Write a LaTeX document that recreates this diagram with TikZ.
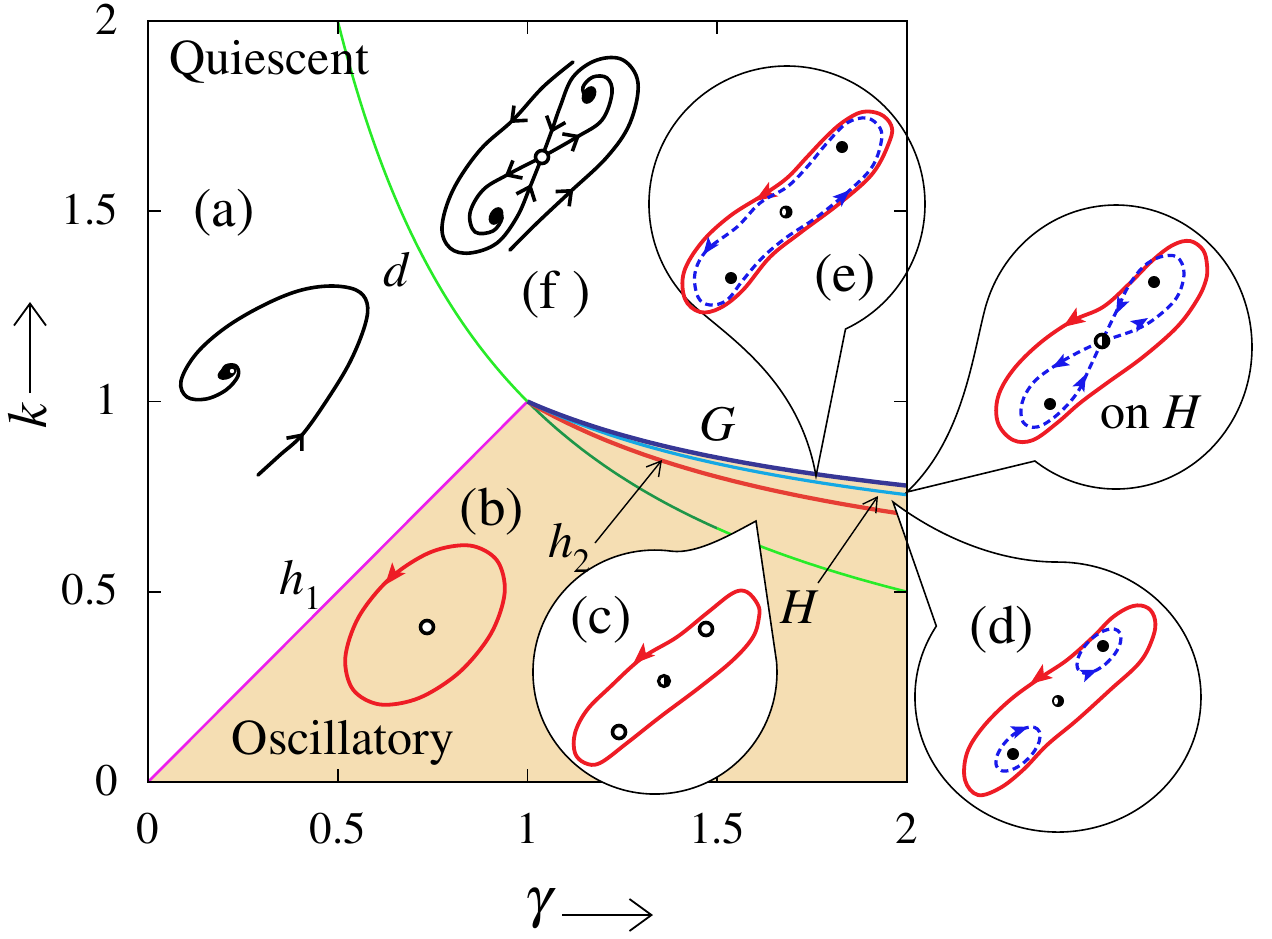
\documentclass[tikz,border=0pt]{standalone}
\usepackage[T1]{fontenc}
\usepackage{mathptmx}
\usetikzlibrary{arrows.meta,decorations.markings}
\definecolor{wheatc}{RGB}{245,222,179}
\definecolor{gcol}{RGB}{55,55,150}
\definecolor{hcol}{RGB}{20,168,228}
\definecolor{htwocol}{RGB}{230,62,52}
\definecolor{dgr}{RGB}{40,235,40}
\definecolor{dgrdark}{RGB}{30,150,72}
\definecolor{magc}{RGB}{236,30,236}
\definecolor{redc}{RGB}{238,28,37}
\definecolor{bluec}{RGB}{25,25,235}
\newcommand{\myfsTick}{\fontsize{22.5}{27}\selectfont}
\newcommand{\myfsWord}{\fontsize{25}{30}\selectfont}
\newcommand{\myfsLab}{\fontsize{27.5}{32}\selectfont}
\newcommand{\myfsAx}{\fontsize{28}{33}\selectfont}
\tikzset{
  blk/.style={line width=1.8pt, line cap=round, line join=round},
  redloop/.style={draw=redc, line width=1.9pt, line join=round},
  redtip/.style={draw=redc, line width=0.8pt, -{Stealth[length=11pt,width=8.5pt,inset=2.5pt]}},
  bluedash/.style={draw=bluec, line width=1.6pt, dash pattern=on 3.8pt off 2.3pt},
  bluetip/.style={draw=bluec, line width=0.8pt, -{Stealth[length=8.5pt,width=6.5pt,inset=1.8pt]}},
  bubble/.style={draw=black, line width=0.8pt, fill=white},
  openpt/.style={draw=black, fill=white, line width=1.8pt},
  annot/.style={line width=0.7pt, -{Straight Barb[length=7pt,width=8pt]}},
  axarrow/.style={line width=1.25pt, -{Straight Barb[length=11pt,width=16pt,line width=0.9pt]}},
  tickmark/.style={line width=0.9pt},
  lab/.style={inner sep=0pt, outer sep=0pt},
  barbat/.style={postaction={decorate,decoration={markings,mark=at position #1 with {\arrow{Straight Barb[length=6pt,width=10pt]}}}}},
  bluearrow/.style={postaction={decorate,decoration={markings,mark=at position #1 with {\arrow{Stealth[length=8.5pt,width=6.5pt,inset=1.8pt]}}}}},
}
\begin{document}
\begin{tikzpicture}[x=0.5pt,y=-0.5pt]
\useasboundingbox (0,0) rectangle (1272,938);
% ---------- data region ----------
\begin{scope}[shift={(148,782)}, x=189.75pt, y=190.25pt]
  \fill[wheatc] (0,0) -- (1,1) -- plot[domain=1:2,samples=60] (\x,{0.558+0.442/\x}) -- (2,0) -- cycle;
  \draw[magc, line width=1.3pt] (0,0) -- (1,1);
  \draw[dgr, line width=1.3pt] plot[domain=0.5:1,samples=60] (\x,{1/\x});
  \draw[dgrdark, line width=1.3pt] plot[domain=1:1.5,samples=40] (\x,{1/\x});
  \draw[dgr, line width=1.3pt] plot[domain=1.5:2,samples=40] (\x,{1/\x});
  \draw[htwocol, line width=2.1pt] plot[domain=1:2,samples=60] (\x,{0.406+0.594/\x});
  \draw[hcol, line width=1.6pt] plot[domain=1:2,samples=60] (\x,{0.51+0.49/\x});
  \draw[gcol, line width=2.2pt] plot[domain=1:2,samples=60] (\x,{0.558+0.442/\x});
\end{scope}
% ---------- (a) ----------
\draw[blk, barbat=31pt] plot[smooth, tension=0.6] coordinates {(258,475) (280,455) (302,435) (327,400) (350,362) (365,325) (367,303) (356,290) (330,286) (298,291) (262,306) (225,328) (196,354) (181,381) (187,397) (206,399) (226,390) (238,376) (236,366) (226,366) (221,374)};
\fill[rotate around={25:(227,373)}] (227,373) ellipse[x radius=10, y radius=6];
\fill[white] (232,371) circle[radius=2.2];
% ---------- (f) ----------
\draw[blk, barbat=44pt, barbat=179pt] plot[smooth, tension=0.6] coordinates {(573,62) (543,87) (513,120) (480,150) (453,190) (442,227) (450,248) (470,253) (497,243) (517,217) (530,187) (542,157)};
\draw[blk, barbat=44pt, barbat=181pt] plot[smooth, tension=0.6] coordinates {(510,250) (537,223) (570,192) (607,157) (630,123) (638,83) (623,60) (597,60) (573,77) (560,107) (552,130) (542,157)};
\draw[blk, barbat=21pt] plot[smooth, tension=0.6] coordinates {(542,157) (507,175) (483,190) (470,213) (475,232) (493,231) (502,218) (497,211) (492,216)};
\draw[blk, barbat=22pt] plot[smooth, tension=0.6] coordinates {(542,157) (577,137) (602,120) (612,93) (607,78) (593,77) (583,87) (586,97) (592,96)};
\fill[rotate around={-30:(589,95)}] (589,95) ellipse[x radius=6.5, y radius=9.5];
\fill[rotate around={-30:(496,216)}] (496,216) ellipse[x radius=6.5, y radius=9.5];
\draw[openpt] (542,157) circle[radius=6.5];
% ---------- (b) ----------
\draw[redloop] plot[smooth cycle, tension=0.55] coordinates {(390.1,578.2) (358.8,616.8) (345.3,657.7) (353.1,689.7) (380.2,704.5) (419.3,697.9) (459.9,671.8) (491.2,633.2) (504.7,592.3) (496.9,560.3) (469.8,545.5) (430.7,552.1)};
\draw[redtip] (388.8,580.3) -- (385,585);
\draw[openpt] (427,627) circle[radius=6.5];
% ---------- annotation arrows ----------
\coordinate (h2tail) at (595,543);
\coordinate (h2tip) at (662,460);
\draw[annot] (h2tail) -- (h2tip);
\coordinate (Htail) at (818,583);
\coordinate (Htip) at (878,496);
\draw[annot] (Htail) -- (Htip);
% ---------- bubbles behind the frame ----------
\draw[bubble] (816,476) -- (845.5,329) arc[start angle=64.9, end angle=-230, radius=138] .. controls (736,342) and (800,385) .. (816,476) -- cycle;
\draw[bubble] (907,492) -- (1034.9,461) arc[start angle=126.6, end angle=-165, x radius=136, y radius=142] .. controls (972,360) and (962,440) .. (907,492) -- cycle;
\draw[bubble] (893,502) -- (936.3,626.1) arc[start angle=211.7, end angle=-90, x radius=143, y radius=135] .. controls (990,562) and (930,530) .. (893,502) -- cycle;
% ---------- frame and ticks ----------
\draw[line width=1pt] (148,21) rectangle (907,782);
\foreach \i in {1,2,3} {
  \draw[tickmark] ({148+189.75*\i},782) -- ++(0,-13);
  \draw[tickmark] ({148+189.75*\i},21) -- ++(0,13);
  \draw[tickmark] (148,{782-190.25*\i}) -- ++(13,0);
  \draw[tickmark] (907,{782-190.25*\i}) -- ++(-13,0);
}
% ---------- bubble (c) on top ----------
\draw[bubble] (756,521) -- (776.5,661.4) arc[start angle=-5, end angle=278, radius=122] .. controls (697,554) and (730,535) .. (756,521) -- cycle;
% ---------- contents (c) ----------
\draw[redloop] plot[smooth cycle, tension=0.6] coordinates {(642,658) (610,687) (587,710) (575,733) (575,753) (585,763) (600,763) (627,743) (660,717) (700,687) (733,660) (753,637) (759,617) (758,605) (747,592) (733,593) (707,613) (677,637)};
\draw[redtip] (637.4,660) -- (633,664);
\draw[openpt] (706,629) circle[radius=6.5];
\draw[openpt] (619,732) circle[radius=6.5];
\draw[line width=1.6pt, fill=white] (664,681) circle[radius=5.5];
\fill (664,675.5) arc[start angle=-90, end angle=90, radius=5.5] -- cycle;
% ---------- contents (e) ----------
\draw[redloop] plot[smooth cycle, tension=0.6] coordinates {(763,195) (730,216) (702,242) (684,272) (685,299) (700,312) (720,308) (743,290) (770,257) (800,233) (840,203) (873,173) (890,140) (891,125) (880,114) (862,112) (843,122) (826,137) (807,157) (787,178)};
\draw[redtip] (760,197.8) -- (755,201);
\draw[bluedash, bluearrow=3pt, bluearrow=125pt] plot[smooth cycle, tension=0.6] coordinates {(737,227) (707,250) (695,273) (698,297) (710,305) (727,300) (743,280) (763,257) (787,237) (817,217) (850,190) (872,167) (881,143) (880,128) (867,118) (847,123) (827,143) (807,167) (787,187) (760,203)};
\fill (842,147) circle[radius=6];
\fill (731,278) circle[radius=6];
\fill (786,212) circle[radius=6.5];
\fill[white] (784,212) ellipse[x radius=2, y radius=3.5];
% ---------- contents (on H) ----------
\draw[redloop] plot[smooth cycle, tension=0.6] coordinates {(1072,321) (1040,343) (1013,370) (998,397) (998,423) (1013,440) (1033,440) (1057,423) (1080,403) (1107,383) (1143,357) (1177,327) (1197,300) (1206,280) (1207,265) (1203,250) (1190,241) (1173,245) (1153,260) (1130,283) (1103,307)};
\draw[redtip] (1068,323.6) -- (1063,327);
\draw[bluedash] plot[smooth, tension=0.6] coordinates {(1102,341) (1135,330) (1157,317) (1177,297) (1184,273) (1177,257) (1160,257) (1143,267) (1128,287) (1117,310) (1102,341)};
\draw[bluedash] plot[smooth, tension=0.6] coordinates {(1102,341) (1077,353) (1053,367) (1033,383) (1022,403) (1023,422) (1037,427) (1057,415) (1077,393) (1090,367) (1102,341)};
\draw[bluetip] (1142.8,321.1) -- (1148,318);
\draw[bluetip] (1118.6,308.6) -- (1116,314);
\draw[bluetip] (1057.2,365) -- (1052,368);
\draw[bluetip] (1083.3,379.4) -- (1086,374);
\fill (1154,282) circle[radius=6];
\fill (1050,404) circle[radius=6];
\draw[line width=1.8pt, fill=white] (1102,341) circle[radius=6.5];
\fill (1102,334.5) arc[start angle=-90, end angle=90, radius=6.5] -- cycle;
% ---------- contents (d) ----------
\draw[redloop] plot[smooth cycle, tension=0.6] coordinates {(1040,678) (1010,700) (983,727) (967,753) (965,780) (978,795) (1000,788) (1023,770) (1047,745) (1077,720) (1110,690) (1140,662) (1153,637) (1155,620) (1148,608) (1133,606) (1113,617) (1093,637) (1067,660)};
\draw[redtip] (1034.8,680.5) -- (1030,684);
\draw[bluedash] plot[smooth cycle, tension=0.55] coordinates {(1093.9,671.3) (1105.3,664.2) (1115.1,653.5) (1120.5,642.2) (1120.2,633.2) (1114.2,629.0) (1104.1,630.7) (1092.7,637.8) (1082.9,648.5) (1077.5,659.8) (1077.8,668.8) (1083.8,673.0)};
\draw[bluedash] plot[smooth cycle, tension=0.55] coordinates {(1024.5,728.2) (1034.2,727.2) (1039.6,732.1) (1039.2,741.5) (1033.1,752.9) (1023,763.3) (1011.6,769.8) (1001.8,770.8) (996.4,765.9) (996.8,756.5) (1002.9,745.1) (1013,734.8)};
\draw[bluetip] (1092,672) -- (1097.6,669.8);
\draw[bluetip] (1022.6,728.9) -- (1028.3,726.9);
\fill (1103,646) circle[radius=6];
\fill (1013,754) circle[radius=6];
\fill (1058,701) circle[radius=6];
\fill[white] (1056,701) ellipse[x radius=2, y radius=3.5];
% ---------- labels ----------
\node[lab, font=\myfsWord] (quiescent) at (269,62) {Quiescent};
\node[lab, font=\myfsWord] (oscill) at (343,743) {Oscillatory};
\node[lab, font=\myfsLab] (la) at (224,213) {(a)};
\node[lab, font=\myfsLab] (lb) at (492,512) {(b)};
\node[lab, font=\myfsLab] (lc) at (601,620) {(c)};
\node[lab, font=\myfsLab] (ld) at (1002,630) {(d)};
\node[lab, font=\myfsLab] (le) at (845,278) {(e)};
\node[lab, font=\myfsLab] (lf) at (556,295) {(f\ )};
\node[lab, font=\myfsWord] (lonH) at (1151,413) {on \textit{H}};
\node[lab, font=\myfsWord] (lG) at (718,424) {\textit{G}};
\node[lab, font=\myfsWord] (lH) at (800,607) {\textit{H}};
\node[lab, font=\myfsWord] (ld2) at (397,270) {\textit{d}};
\node[lab, font=\myfsWord] (lh1) at (300,585) {\textit{h}\raisebox{-0.3em}{\fontsize{17}{20}\selectfont 1}};
\node[lab, font=\myfsWord] (lh2) at (569,548) {\textit{h}\raisebox{-0.3em}{\fontsize{17}{20}\selectfont 2}};
\foreach \v/\t in {0/0,1/0.5,2/1,3/1.5,4/2} {
  \node[lab, font=\myfsTick] (xt\v) at ({148+189.75*\v},828) {\t};
  \node[lab, font=\myfsTick, anchor=east] (yt\v) at (118,{780-190.25*\v}) {\t};
}
\node[lab, font=\myfsAx] (gam) at (538,909) {$\gamma$};
\coordinate (ga1) at (562,915);
\coordinate (ga2) at (653,915);
\draw[axarrow] (ga1) -- (ga2);
\node[lab, font=\myfsAx, rotate=90] (kk) at (28,416) {\textit{k}};
\coordinate (ka1) at (30,393);
\coordinate (ka2) at (30,302);
\draw[axarrow] (ka1) -- (ka2);
\end{tikzpicture}
\end{document}
